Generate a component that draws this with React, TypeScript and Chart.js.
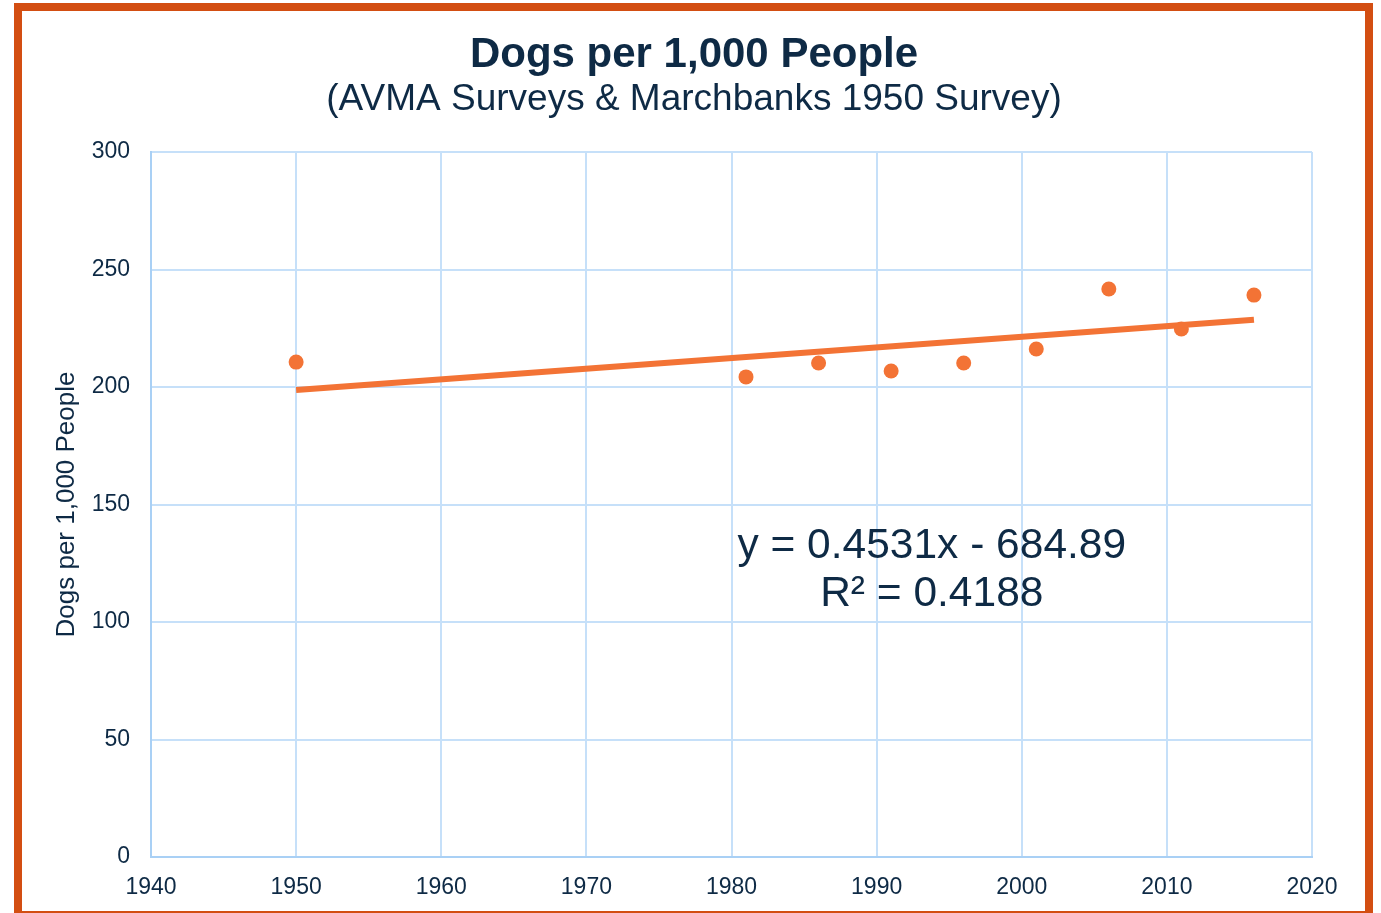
import React, { useEffect, useRef } from "react";
import { Chart, registerables } from "chart.js";

Chart.register(...registerables);

// ---- Data ----
const YEARS = [1950, 1981, 1986, 1991, 1996, 2001, 2006, 2011, 2016];
const DOGS_PER_1000 = [210.6, 204.3, 210.2, 206.8, 210.2, 216.2, 241.7, 224.7, 239.1];
const TREND_YEARS = [1950, 2016];
const TREND_VALUES = [198.7, 228.6];
const X_TICKS = [1940, 1950, 1960, 1970, 1980, 1990, 2000, 2010, 2020];
const Y_TICKS = [0, 50, 100, 150, 200, 250, 300];
const TITLE = "Dogs per 1,000 People";
const SUBTITLE = "(AVMA Surveys & Marchbanks 1950 Survey)";
const Y_AXIS_TITLE = "Dogs per 1,000 People";
const EQUATION_LINES = ["y = 0.4531x - 684.89", "R² = 0.4188"];

// ---- Styles / placement ----
const FONT = '"Liberation Sans", Arial, Helvetica, sans-serif';
const TEXT = "#0E2A45";
const ORANGE = "#F37335";
const FRAME = "#D34E12";
const GRID = "#C6E0F9";
const AXIS = "#A9D0F5";
const EQ_ANCHOR_X = 1993.8;
const EQ_BASELINES = [127.2, 106.9];
const TITLE_CENTER_X = 694;
const TITLE_BASELINE = 67;
const SUBTITLE_BASELINE = 110;

const titlePlugin = {
  id: "centeredTitles",
  afterDraw(chart: any) {
    const { ctx } = chart;
    ctx.save();
    ctx.fillStyle = TEXT;
    ctx.textAlign = "center";
    ctx.textBaseline = "alphabetic";
    ctx.font = `bold 42px ${FONT}`;
    ctx.fillText(TITLE, TITLE_CENTER_X, TITLE_BASELINE);
    ctx.font = `37px ${FONT}`;
    ctx.fillText(SUBTITLE, TITLE_CENTER_X, SUBTITLE_BASELINE);
    ctx.restore();
  },
};

const equationPlugin = {
  id: "equationLabel",
  afterDatasetsDraw(chart: any) {
    const { ctx, scales } = chart;
    const x = scales.x;
    const y = scales.y;
    ctx.save();
    ctx.font = `42.5px ${FONT}`;
    ctx.fillStyle = TEXT;
    ctx.textAlign = "center";
    ctx.textBaseline = "alphabetic";
    const cx = x.getPixelForValue(EQ_ANCHOR_X);
    EQUATION_LINES.forEach((line, i) => {
      ctx.fillText(line, cx, y.getPixelForValue(EQ_BASELINES[i]));
    });
    ctx.restore();
  },
};

export default function App() {
  const canvasRef = useRef<HTMLCanvasElement | null>(null);

  useEffect(() => {
    const canvas = canvasRef.current;
    if (!canvas) return;
    const chart = new Chart(canvas, {
      type: "scatter",
      data: {
        datasets: [
          {
            label: "Trend",
            data: TREND_YEARS.map((yr, i) => ({ x: yr, y: TREND_VALUES[i] })),
            showLine: true,
            borderColor: ORANGE,
            backgroundColor: ORANGE,
            borderWidth: 6,
            pointRadius: 0,
            order: 0,
          },
          {
            label: "Dogs per 1,000 People",
            data: YEARS.map((yr, i) => ({ x: yr, y: DOGS_PER_1000[i] })),
            showLine: false,
            backgroundColor: ORANGE,
            borderColor: ORANGE,
            borderWidth: 0,
            pointRadius: 7.5,
            order: 1,
          },
        ],
      },
      options: {
        responsive: false,
        animation: false,
        layout: { padding: { left: 51, right: 69, top: 152, bottom: 0 } },
        plugins: {
          legend: { display: false },
          tooltip: { enabled: false },
          title: { display: false },
        },
        scales: {
          x: {
            type: "linear",
            min: 1940,
            max: 2020,
            afterBuildTicks: (s: any) => {
              s.ticks = X_TICKS.map((v) => ({ value: v }));
            },
            afterFit: (s: any) => {
              s.height = 56;
            },
            ticks: {
              color: TEXT,
              font: { family: FONT, size: 23 },
              padding: 17,
              maxRotation: 0,
              autoSkip: false,
              callback: (v: any) => String(v),
            },
            grid: { color: GRID, lineWidth: 2, drawTicks: false },
            border: { color: AXIS, width: 2 },
          },
          y: {
            type: "linear",
            min: 0,
            max: 300,
            afterBuildTicks: (s: any) => {
              s.ticks = Y_TICKS.map((v) => ({ value: v }));
            },
            afterFit: (s: any) => {
              s.width = 100;
            },
            ticks: {
              color: TEXT,
              font: { family: FONT, size: 23 },
              padding: 21,
              autoSkip: false,
              callback: (v: any) => String(v),
            },
            title: {
              display: true,
              text: Y_AXIS_TITLE,
              color: TEXT,
              font: { family: FONT, size: 26, lineHeight: 1.2 },
              padding: 0,
            },
            grid: { color: GRID, lineWidth: 2, drawTicks: false },
            border: { color: AXIS, width: 2 },
          },
        },
      },
      plugins: [equationPlugin, titlePlugin],
    });
    return () => chart.destroy();
  }, []);

  return (
    <div
      style={{
        position: "absolute",
        left: 0,
        top: 0,
        width: 1381,
        height: 913,
        overflow: "hidden",
        background: "#ffffff",
      }}
    >
      <canvas
        ref={canvasRef}
        width={1381}
        height={913}
        style={{ position: "absolute", left: 0, top: 0, width: 1381, height: 913 }}
      />
      <div
        style={{
          position: "absolute",
          left: 14,
          top: 3,
          width: 1359,
          height: 916,
          boxSizing: "border-box",
          border: `8px solid ${FRAME}`,
          pointerEvents: "none",
        }}
      />
    </div>
  );
}
